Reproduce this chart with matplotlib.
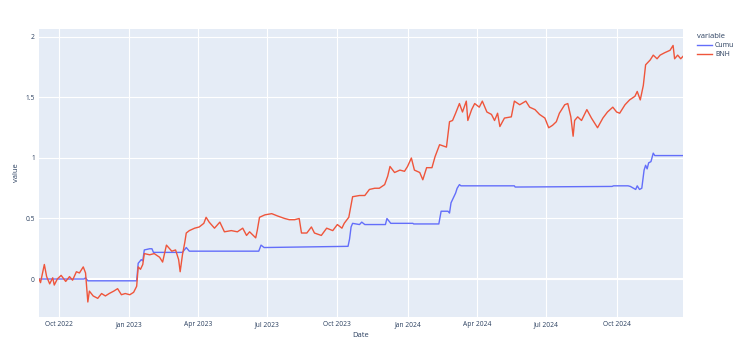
import matplotlib
matplotlib.use("Agg")
import matplotlib.pyplot as plt
import matplotlib.dates as mdates
import pandas as pd

bnh_dates = ["2022-09-05","2022-09-07","2022-09-12","2022-09-15","2022-09-19","2022-09-23","2022-09-25","2022-09-29",
    "2022-10-04","2022-10-10","2022-10-15","2022-10-19","2022-10-24","2022-10-28","2022-11-02","2022-11-05","2022-11-08",
    "2022-11-10","2022-11-15","2022-11-21","2022-11-26","2022-12-01","2022-12-06","2022-12-12","2022-12-17","2022-12-22",
    "2022-12-27","2023-01-02","2023-01-07","2023-01-11","2023-01-13","2023-01-16","2023-01-19","2023-01-21","2023-01-28",
    "2023-02-03","2023-02-10","2023-02-14","2023-02-19","2023-02-26","2023-03-03","2023-03-07","2023-03-09","2023-03-12",
    "2023-03-15","2023-03-17","2023-03-21","2023-03-28","2023-04-03","2023-04-09","2023-04-12","2023-04-16","2023-04-23",
    "2023-04-30","2023-05-06","2023-05-15","2023-05-23","2023-05-30","2023-06-04","2023-06-08","2023-06-16","2023-06-18",
    "2023-06-21","2023-06-28","2023-07-07","2023-07-15","2023-07-24","2023-07-30","2023-08-06","2023-08-12","2023-08-15",
    "2023-08-22","2023-08-28","2023-09-01","2023-09-10","2023-09-17","2023-09-25","2023-10-01","2023-10-07","2023-10-10",
    "2023-10-16","2023-10-21","2023-10-30","2023-11-06","2023-11-12","2023-11-19","2023-11-25","2023-12-02","2023-12-06",
    "2023-12-09","2023-12-15","2023-12-22","2023-12-28","2024-01-01","2024-01-06","2024-01-10","2024-01-17","2024-01-21",
    "2024-01-26","2024-02-02","2024-02-06","2024-02-12","2024-02-21","2024-02-25","2024-02-29","2024-03-04","2024-03-09",
    "2024-03-13","2024-03-18","2024-03-20","2024-03-25","2024-03-29","2024-04-04","2024-04-08","2024-04-14","2024-04-20",
    "2024-04-24","2024-04-28","2024-05-01","2024-05-07","2024-05-16","2024-05-20","2024-05-27","2024-06-04","2024-06-09",
    "2024-06-16","2024-06-22","2024-06-29","2024-07-04","2024-07-09","2024-07-14","2024-07-18","2024-07-25","2024-07-29",
    "2024-08-02","2024-08-05","2024-08-07","2024-08-11","2024-08-16","2024-08-23","2024-08-29","2024-09-06","2024-09-13",
    "2024-09-19","2024-09-26","2024-10-01","2024-10-05","2024-10-12","2024-10-18","2024-10-25","2024-10-28","2024-11-01",
    "2024-11-05","2024-11-08","2024-11-14","2024-11-18","2024-11-23","2024-11-27","2024-12-03","2024-12-10","2024-12-14",
    "2024-12-16","2024-12-20","2024-12-24","2024-12-27"]
bnh_values = [0.0,-0.03,0.12,0.02,-0.04,0.01,-0.05,0.0,
    0.03,-0.02,0.02,-0.01,0.06,0.05,0.1,0.05,-0.19,
    -0.1,-0.14,-0.16,-0.12,-0.14,-0.12,-0.1,-0.08,-0.13,
    -0.12,-0.13,-0.11,-0.06,0.1,0.08,0.12,0.21,0.2,
    0.21,0.18,0.14,0.28,0.23,0.24,0.16,0.06,0.2,
    0.3,0.38,0.4,0.42,0.43,0.46,0.51,0.47,0.42,
    0.47,0.39,0.4,0.39,0.42,0.36,0.39,0.34,0.4,
    0.51,0.53,0.54,0.52,0.5,0.49,0.49,0.5,0.38,
    0.38,0.43,0.38,0.36,0.42,0.4,0.45,0.42,0.46,
    0.51,0.68,0.69,0.69,0.74,0.75,0.75,0.78,0.85,
    0.93,0.88,0.9,0.89,0.93,1.0,0.9,0.88,0.82,
    0.92,0.92,1.01,1.11,1.09,1.3,1.31,1.37,1.45,
    1.38,1.47,1.31,1.4,1.45,1.42,1.47,1.38,1.36,
    1.31,1.37,1.26,1.33,1.34,1.47,1.44,1.47,1.42,
    1.4,1.36,1.33,1.25,1.27,1.3,1.37,1.44,1.45,
    1.34,1.18,1.31,1.34,1.31,1.4,1.33,1.25,1.33,
    1.38,1.42,1.38,1.37,1.44,1.48,1.51,1.55,1.48,
    1.6,1.77,1.81,1.85,1.82,1.85,1.87,1.89,1.93,
    1.82,1.85,1.82,1.84]

cumu_dates = ["2022-09-05","2022-11-03","2022-11-05","2022-11-08","2023-01-11","2023-01-13","2023-01-17","2023-01-19",
    "2023-01-21","2023-01-28","2023-01-31","2023-02-02","2023-03-12","2023-03-17","2023-03-21","2023-06-20","2023-06-23",
    "2023-06-27","2023-10-15","2023-10-17","2023-10-19","2023-10-21","2023-10-30","2023-11-02","2023-11-06","2023-12-03",
    "2023-12-05","2023-12-10","2024-01-08","2024-01-09","2024-02-11","2024-02-14","2024-02-23","2024-02-25","2024-02-27",
    "2024-03-01","2024-03-04","2024-03-06","2024-03-09","2024-03-11","2024-05-20","2024-05-21","2024-09-25","2024-09-27",
    "2024-10-16","2024-10-19","2024-10-26","2024-10-28","2024-10-31","2024-11-03","2024-11-06","2024-11-08","2024-11-10",
    "2024-11-12","2024-11-15","2024-11-18","2024-11-20","2024-12-27"]
cumu_values = [0.0,0.0,0.01,-0.015,-0.015,0.13,0.16,0.15,
    0.24,0.25,0.25,0.22,0.22,0.26,0.23,0.23,0.28,
    0.26,0.27,0.33,0.43,0.46,0.45,0.47,0.45,0.45,
    0.5,0.46,0.46,0.455,0.455,0.56,0.56,0.545,0.63,
    0.67,0.71,0.75,0.78,0.77,0.77,0.76,0.765,0.77,
    0.77,0.765,0.74,0.77,0.74,0.75,0.9,0.94,0.91,
    0.96,0.97,1.04,1.02,1.02]

y_ticks = [0, 0.5, 1, 1.5, 2]
y_tick_labels = ["0", "0.5", "1", "1.5", "2"]

txt = "#2a3f5f"
plt.rcParams['font.family'] = ['Open Sans', 'DejaVu Sans']

fig = plt.figure(figsize=(7.4, 3.56), dpi=100)
ax = fig.add_axes([39/740, 1-317/356, (683-39)/740, (317-29)/356])
ax.set_facecolor("#E5ECF6")
for s in ax.spines.values():
    s.set_visible(False)

cd = pd.to_datetime(cumu_dates)
bd = pd.to_datetime(bnh_dates)
ax.plot(cd, cumu_values, color="#636EFA", lw=1.0, label="Cumu", zorder=3)
ax.plot(bd, bnh_values, color="#EF553B", lw=1.0, label="BNH", zorder=3)

ax.set_xlim(bd.min(), bd.max())
ax.set_ylim(-0.314, 2.066)
ax.set_yticks(y_ticks)
ax.set_yticklabels(y_tick_labels)
ax.xaxis.set_major_locator(mdates.MonthLocator(bymonth=[1, 4, 7, 10]))
ax.xaxis.set_major_formatter(mdates.DateFormatter("%b %Y"))
ax.grid(True, color="white", lw=0.8, zorder=0)
ax.axhline(0, color="white", lw=1.5, zorder=1)
ax.set_axisbelow(True)
ax.tick_params(axis="both", length=0, labelsize=4.8, labelcolor=txt, pad=3)

ax.set_xlabel("Date", fontsize=5.5, color=txt, labelpad=3)
ax.set_ylabel("value", fontsize=5.5, color=txt, labelpad=4)

leg = ax.legend(title="variable", loc="upper left", bbox_to_anchor=(1.015, 1.0), frameon=False,
                fontsize=5, title_fontsize=5.5, handlelength=2.2, handletextpad=0.4,
                labelspacing=0.3, borderaxespad=0.2)
leg._legend_box.align = "left"
for t in leg.get_texts():
    t.set_color(txt)
leg.get_title().set_color(txt)

fig.savefig("out.png", dpi=100, facecolor="white")
